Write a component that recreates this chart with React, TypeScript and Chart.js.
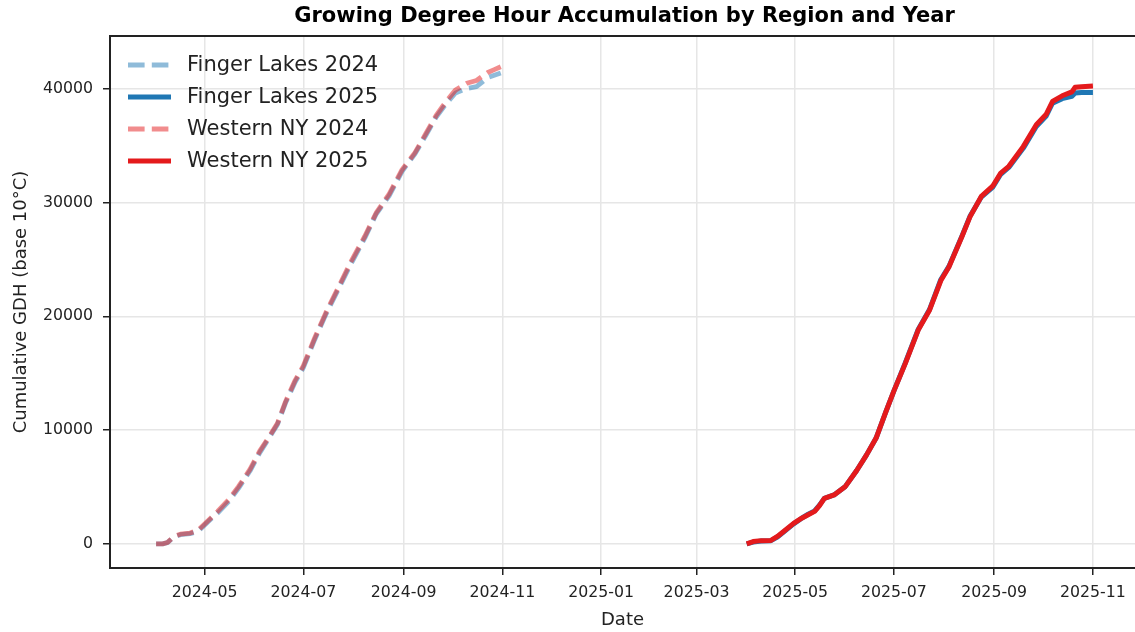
import { useEffect, useRef } from "react";
import { Chart, registerables } from "chart.js";

Chart.register(...registerables);

const titleText = "Growing Degree Hour Accumulation by Region and Year";
const xAxisLabel = "Date";
const yAxisLabel = "Cumulative GDH (base 10°C)";

const seriesLabels = ["Finger Lakes 2024", "Finger Lakes 2025", "Western NY 2024", "Western NY 2025"];

const dates2024 = [
  "2024-04-01", "2024-04-05", "2024-04-08", "2024-04-12", "2024-04-16", "2024-04-22", "2024-04-27",
  "2024-05-01", "2024-05-05", "2024-05-09", "2024-05-16", "2024-05-22", "2024-05-29",
  "2024-06-04", "2024-06-10", "2024-06-15", "2024-06-20", "2024-06-26",
  "2024-07-01", "2024-07-08", "2024-07-15", "2024-07-23", "2024-07-30",
  "2024-08-08", "2024-08-15", "2024-08-23", "2024-08-31",
  "2024-09-08", "2024-09-15", "2024-09-21", "2024-09-27",
  "2024-10-03", "2024-10-10", "2024-10-16", "2024-10-23", "2024-10-27", "2024-10-31",
];
const finger2024 = [
  0, 0, 100, 600, 800, 900, 1100,
  1650, 2200, 2700, 3750, 4900, 6400,
  8000, 9350, 10500, 12400, 14250,
  15500, 17950, 20200, 22500, 24500,
  26900, 29000, 30600, 32750,
  34300, 36000, 37500, 38650,
  39650, 40050, 40200, 41000, 41200, 41400,
];
const western2024 = [
  0, 0, 120, 650, 850, 950, 1200,
  1750, 2300, 2850, 3900, 5050, 6550,
  8150, 9450, 10600, 12500, 14400,
  15650, 18100, 20350, 22650, 24700,
  27050, 29100, 30750, 32900,
  34400, 36150, 37650, 38850,
  39900, 40500, 40750, 41450, 41700, 41950,
];

const dates2025 = [
  "2025-04-01", "2025-04-05", "2025-04-10", "2025-04-16", "2025-04-20", "2025-04-24", "2025-04-30",
  "2025-05-05", "2025-05-09", "2025-05-13", "2025-05-16", "2025-05-19", "2025-05-25",
  "2025-06-01", "2025-06-08", "2025-06-14", "2025-06-20", "2025-06-26",
  "2025-07-01", "2025-07-08", "2025-07-16", "2025-07-23", "2025-07-30",
  "2025-08-04", "2025-08-12", "2025-08-17", "2025-08-24", "2025-08-31",
  "2025-09-05", "2025-09-10", "2025-09-19", "2025-09-27",
  "2025-10-03", "2025-10-07", "2025-10-13", "2025-10-19", "2025-10-21", "2025-10-25",
  "2025-11-01",
];
const finger2025 = [
  0, 150, 250, 280, 600, 1050, 1750,
  2250, 2600, 2900, 3400, 4000, 4300,
  5050, 6450, 7800, 9300, 11600,
  13450, 15900, 18850, 20600, 23250,
  24400, 27050, 28800, 30500, 31350,
  32500, 33100, 34800, 36700,
  37600, 38750, 39150, 39350, 39650, 39700,
  39700,
];
const western2025 = [
  0, 200, 280, 300, 650, 1100, 1800,
  2250, 2550, 2850, 3350, 4000, 4300,
  5050, 6450, 7800, 9300, 11600,
  13450, 15850, 18800, 20550, 23150,
  24350, 27000, 28750, 30550, 31450,
  32600, 33200, 34950, 36850,
  37750, 38900, 39400, 39750, 40150, 40200,
  40270,
];

const xTickDates = [
  "2024-05-01", "2024-07-01", "2024-09-01", "2024-11-01", "2025-01-01",
  "2025-03-01", "2025-05-01", "2025-07-01", "2025-09-01", "2025-11-01",
];
const xTickLabels = [
  "2024-05", "2024-07", "2024-09", "2024-11", "2025-01",
  "2025-03", "2025-05", "2025-07", "2025-09", "2025-11",
];
const yTicks = [0, 10000, 20000, 30000, 40000];

const toMs = (s: string) => Date.parse(s + "T00:00:00Z");
const DAY = 24 * 3600 * 1000;
const FONT = '"DejaVu Sans", "Liberation Sans", sans-serif';
const INK = "#222222";

const pts = (dates: string[], vals: number[]) => dates.map((d, i) => ({ x: toMs(d), y: vals[i] }));

export default function App() {
  const ref = useRef<HTMLCanvasElement | null>(null);

  useEffect(() => {
    document.body.style.margin = "0";
    document.body.style.overflow = "hidden";
    const canvas = ref.current;
    if (!canvas) return;

    const overlay = {
      id: "overlay",
      afterDraw(chart: any) {
        const { ctx, chartArea: a } = chart;
        ctx.save();
        // top spine
        ctx.strokeStyle = INK;
        ctx.lineWidth = 2;
        ctx.setLineDash([]);
        ctx.beginPath();
        ctx.moveTo(a.left - 1, a.top);
        ctx.lineTo(a.right, a.top);
        ctx.stroke();
        // title
        ctx.font = `bold 21px ${FONT}`;
        ctx.fillStyle = "#000";
        ctx.textAlign = "center";
        ctx.textBaseline = "middle";
        ctx.fillText(titleText, (a.left + a.right) / 2 + 2, 17);
        // legend
        chart.data.datasets.forEach((ds: any, i: number) => {
          const y = a.top + 29 + i * 32;
          ctx.beginPath();
          ctx.setLineDash(ds.borderDash || []);
          ctx.strokeStyle = ds.borderColor;
          ctx.lineWidth = ds.borderWidth;
          ctx.lineCap = "butt";
          ctx.moveTo(a.left + 18, y);
          ctx.lineTo(a.left + 61, y);
          ctx.stroke();
          ctx.setLineDash([]);
          ctx.font = `21px ${FONT}`;
          ctx.fillStyle = INK;
          ctx.textAlign = "left";
          ctx.textBaseline = "middle";
          ctx.fillText(ds.label, a.left + 77, y + 1);
        });
        ctx.restore();
      },
    };

    const dash = [16.6, 7.2];
    const chart = new Chart(canvas, {
      type: "line",
      data: {
        datasets: [
          {
            label: seriesLabels[0],
            data: pts(dates2024, finger2024),
            borderColor: "rgba(31,119,180,0.5)",
            borderDash: dash,
            borderWidth: 4.8,
            order: 4,
          },
          {
            label: seriesLabels[1],
            data: pts(dates2025, finger2025),
            borderColor: "#1f77b4",
            borderWidth: 5,
            order: 3,
          },
          {
            label: seriesLabels[2],
            data: pts(dates2024, western2024),
            borderColor: "rgba(228,26,28,0.5)",
            borderDash: dash,
            borderWidth: 4.8,
            order: 2,
          },
          {
            label: seriesLabels[3],
            data: pts(dates2025, western2025),
            borderColor: "#e41a1c",
            borderWidth: 5,
            order: 1,
          },
        ] as any,
      },
      options: {
        animation: false,
        responsive: true,
        maintainAspectRatio: false,
        layout: { padding: { top: 36, left: 0, right: 0, bottom: 0 } },
        elements: {
          point: { radius: 0, hoverRadius: 0 },
          line: { tension: 0, fill: false, borderJoinStyle: "round" },
        },
        plugins: {
          legend: { display: false },
          tooltip: { enabled: false },
          title: { display: false },
        },
        scales: {
          x: {
            type: "linear",
            min: toMs("2024-03-03") + 12 * 3600 * 1000,
            max: toMs("2025-11-01") + 26 * DAY,
            afterBuildTicks: (scale: any) => {
              scale.ticks = xTickDates.map((d) => ({ value: toMs(d) }));
            },
            afterFit: (scale: any) => {
              scale.height = 64;
            },
            ticks: {
              autoSkip: false,
              maxRotation: 0,
              padding: 8,
              color: INK,
              font: { family: FONT, size: 15.75 },
              callback: (v: any) => {
                const i = xTickDates.findIndex((d) => toMs(d) === v);
                return i >= 0 ? xTickLabels[i] : "";
              },
            },
            grid: {
              color: "#e6e6e6",
              lineWidth: 1.5,
              tickColor: INK,
              tickWidth: 1.5,
              tickLength: 7,
            },
            border: { color: INK, width: 2 },
            title: {
              display: true,
              text: xAxisLabel,
              color: INK,
              font: { family: FONT, size: 18 },
              padding: { top: 0, bottom: 1 },
            },
          },
          y: {
            type: "linear",
            min: -2127,
            max: 44660,
            afterBuildTicks: (scale: any) => {
              scale.ticks = yTicks.map((v) => ({ value: v }));
            },
            afterFit: (scale: any) => {
              scale.width = 110;
            },
            ticks: {
              padding: 10,
              color: INK,
              font: { family: FONT, size: 15.75 },
              callback: (v: any) => String(v),
            },
            grid: {
              color: "#e6e6e6",
              lineWidth: 1.5,
              tickColor: INK,
              tickWidth: 1.5,
              tickLength: 7,
            },
            border: { color: INK, width: 2 },
            title: {
              display: true,
              text: yAxisLabel,
              color: INK,
              font: { family: FONT, size: 18 },
              padding: { top: 11, bottom: 0 },
            },
          },
        },
      } as any,
      plugins: [overlay],
    });

    return () => chart.destroy();
  }, []);

  return (
    <div style={{ width: 1135, height: 632, position: "relative" }}>
      <canvas ref={ref} />
    </div>
  );
}
